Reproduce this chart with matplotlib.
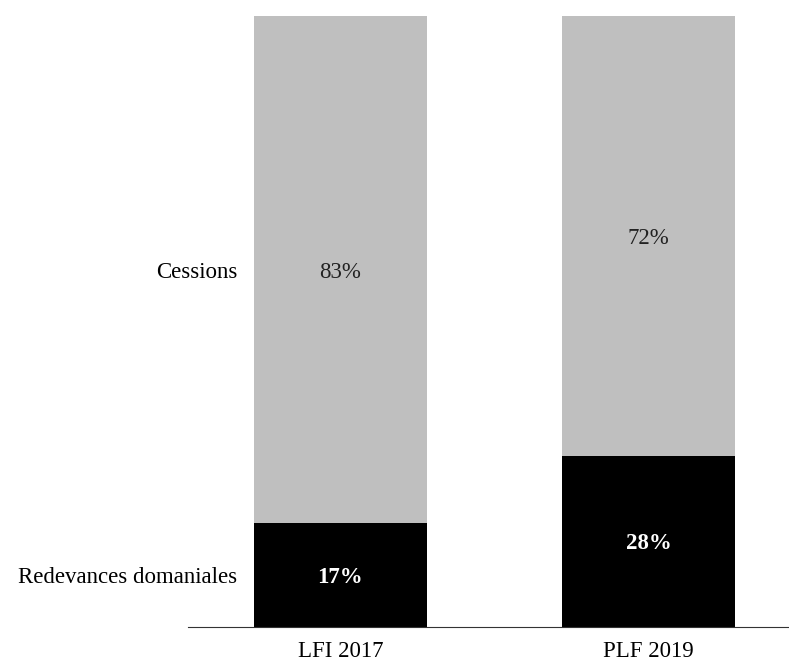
import matplotlib.pyplot as plt

plt.rcParams['font.family'] = ['Liberation Serif', 'DejaVu Serif']

years = ['LFI 2017', 'PLF 2019']
redevances = [17, 28]
cessions = [83, 72]
series_names = ['Redevances domaniales', 'Cessions']

fig = plt.figure(figsize=(7.89, 6.58), dpi=100)
ax = fig.add_axes([0.238, 0.0471, 0.762, 0.9286])

x = range(len(years))
width = 0.5617
ax.bar(x, redevances, width, color='black')
ax.bar(x, cessions, width, bottom=redevances, color='#bfbfbf')

fs = 16.5

# value labels centred in each segment
for i in x:
    ax.text(i, redevances[i] / 2, f'{redevances[i]}%', ha='center',
            va='center_baseline', color='white', fontsize=fs, fontweight='bold')
    ax.text(i, redevances[i] + cessions[i] / 2, f'{cessions[i]}%', ha='center',
            va='center_baseline', color='#222222', fontsize=fs)

# series names to the left of the first bar
left_edge = -width / 2
ax.annotate(series_names[0], (left_edge, redevances[0] / 2), xytext=(-12, 0),
            textcoords='offset points', ha='right', va='center_baseline',
            fontsize=fs)
ax.annotate(series_names[1], (left_edge, redevances[0] + cessions[0] / 2),
            xytext=(-12, 0), textcoords='offset points', ha='right',
            va='center_baseline', fontsize=fs)

ax.set_xlim(-0.495, 1.456)
ax.set_ylim(0, 100)
ax.set_xticks(list(x))
ax.set_xticklabels(years, fontsize=fs)
ax.tick_params(axis='x', length=0, pad=10)
ax.set_yticks([])
for side in ['top', 'right', 'left']:
    ax.spines[side].set_visible(False)
ax.spines['bottom'].set_color('#333333')

fig.savefig('out.png', dpi=100)
